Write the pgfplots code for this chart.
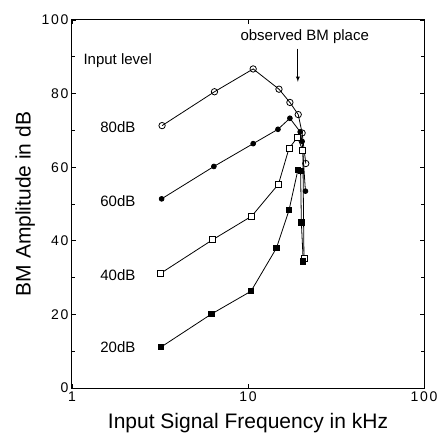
\documentclass[border=0pt]{standalone}
\usepackage{pgfplots}
\pgfplotsset{compat=1.18}
\usepackage{fontspec}
\setmainfont{Liberation Sans}
\setsansfont{Liberation Sans}
\newfontfamily\tickfont[LetterSpace=12]{Liberation Sans}
\begin{document}
\begin{tikzpicture}
\begin{axis}[
  scale only axis, width=352pt, height=368pt,
  xmode=log, xmin=1, xmax=100, ymin=0, ymax=100,
  log basis x=10,
  xtick={1,10,100}, xticklabels={1,10,100},
  ytick={0,20,40,60,80,100},
  minor y tick num=1,
  tick align=inside,
  axis line style={line width=1pt},
  every tick/.style={black, line width=0.6pt},
  tick label style={font=\fontsize{14}{16}\tickfont},
  /pgf/number format/assume math mode=true,
  xlabel={Input Signal Frequency in kHz},
  ylabel={BM Amplitude in dB},
  label style={font=\fontsize{21}{24}\selectfont},
  xlabel style={yshift=-5pt},
  clip=false,
  every axis plot/.style={black, line width=0.8pt},
]
% 80 dB: open circles
\addplot[mark=o, mark size=3.2pt, mark options={fill=white, line width=0.8pt}] coordinates {
(3.25,71.3) (6.45,80.5) (10.7,86.7) (15.0,81.2) (17.3,77.6) (19.3,74.3) (20.3,69.3) (21.3,61)
};
% 60 dB: filled circles
\addplot[mark=*, mark size=2.4pt] coordinates {
(3.23,51.4) (6.4,60.2) (10.7,66.4) (14.8,70.3) (17.3,73.3) (19.8,69.6) (20.3,67) (21.2,53.5)
};
% 40 dB: open squares
\addplot[mark=square*, mark size=3pt, mark options={fill=white, line width=0.8pt}] coordinates {
(3.2,31.2) (6.3,40.3) (10.5,46.7) (14.9,55.4) (17.1,65.1) (19.1,68.1) (20.5,64.5) (20.8,35.1)
};
% 20 dB: filled squares
\addplot[mark=square*, mark size=2.6pt] coordinates {
(3.2,11.1) (6.2,20.1) (10.4,26.3) (14.5,38) (17.1,48.3) (19.2,59.2) (19.9,59) (20.1,45) (20.6,34.4)
};
\node[anchor=west, font=\fontsize{15}{17}\selectfont] at (axis cs:1.11,89) {Input level};
\node[font=\fontsize{15}{17}\selectfont] at (axis cs:21,95.6) {observed BM place};
\draw[-latex, line width=0.8pt] (axis cs:19.2,92.2) -- (axis cs:19.2,83.2);
\node[anchor=east, font=\fontsize{15}{17}\selectfont] at (axis cs:2.4,71) {80dB};
\node[anchor=east, font=\fontsize{15}{17}\selectfont] at (axis cs:2.4,50.8) {60dB};
\node[anchor=east, font=\fontsize{15}{17}\selectfont] at (axis cs:2.4,30.8) {40dB};
\node[anchor=east, font=\fontsize{15}{17}\selectfont] at (axis cs:2.4,11.2) {20dB};
\end{axis}
\path ([xshift=-72pt,yshift=-57pt]current axis.south west) rectangle ([xshift=17pt,yshift=20pt]current axis.north east);
\end{tikzpicture}
\end{document}
